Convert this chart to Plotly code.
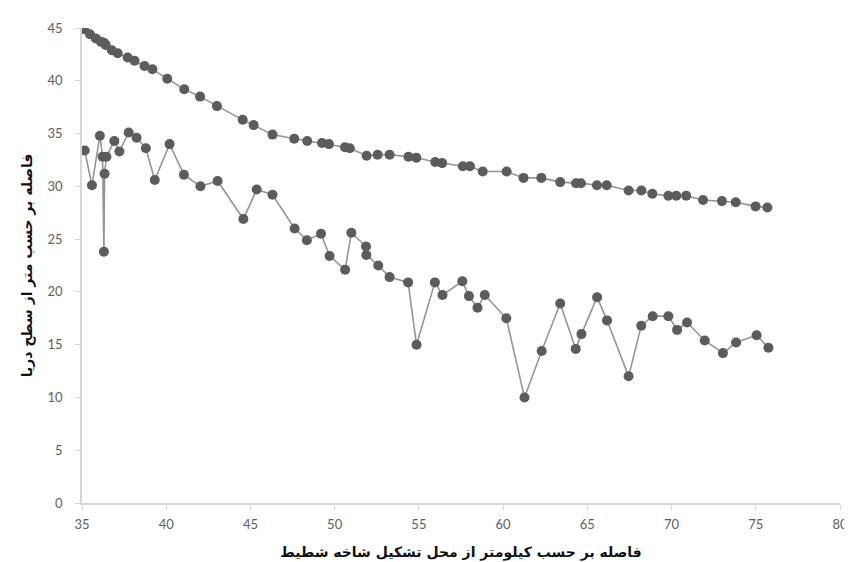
import plotly.graph_objects as go

# Upper series (distance km, elevation m)
upper_x = [35.12, 35.47, 35.82, 36.12, 36.30, 36.41, 36.77, 37.12, 37.71, 38.12, 38.71, 39.18,
           40.06, 41.07, 42.01, 43.01, 44.54, 45.19, 46.31, 47.60, 48.37, 49.25, 49.66, 50.61,
           50.90, 51.90, 52.55, 53.26, 54.38, 54.85, 55.97, 56.38, 57.61, 58.03, 58.79, 60.21,
           61.21, 62.27, 63.39, 64.33, 64.62, 65.57, 66.15, 67.45, 68.21, 68.86, 69.81, 70.28,
           70.87, 71.87, 72.99, 73.81, 74.99, 75.69]
upper_y = [44.9, 44.4, 44.0, 43.7, 43.6, 43.4, 42.9, 42.6, 42.2, 41.9, 41.4, 41.1,
           40.2, 39.2, 38.5, 37.6, 36.3, 35.8, 34.9, 34.5, 34.3, 34.1, 34.0, 33.7,
           33.6, 32.9, 33.0, 33.0, 32.8, 32.7, 32.3, 32.2, 31.9, 31.9, 31.4, 31.4,
           30.8, 30.8, 30.4, 30.3, 30.3, 30.1, 30.1, 29.6, 29.6, 29.3, 29.1, 29.1,
           29.1, 28.7, 28.6, 28.5, 28.1, 28.0]

# Lower series
lower_x = [35.16, 35.59, 36.06, 36.22, 36.30, 36.34, 36.45, 36.92, 37.22, 37.77, 38.24, 38.79,
           39.32, 40.20, 41.05, 42.03, 43.05, 44.58, 45.37, 46.31, 47.62, 48.35, 49.19, 49.70,
           50.62, 50.99, 51.86, 51.88, 52.59, 53.26, 54.36, 54.86, 55.95, 56.40, 57.58, 57.97,
           58.48, 58.91, 60.19, 61.27, 62.29, 63.39, 64.31, 64.65, 65.58, 66.17, 67.45, 68.20,
           68.88, 69.81, 70.33, 70.92, 71.97, 73.05, 73.83, 75.05, 75.75]
lower_y = [33.4, 30.1, 34.8, 32.8, 23.8, 31.2, 32.8, 34.3, 33.3, 35.1, 34.6, 33.6,
           30.6, 34.0, 31.1, 30.0, 30.5, 26.9, 29.7, 29.2, 26.0, 24.9, 25.5, 23.4,
           22.1, 25.6, 24.3, 23.5, 22.5, 21.4, 20.9, 15.0, 20.9, 19.7, 21.0, 19.6,
           18.5, 19.7, 17.5, 10.0, 14.4, 18.9, 14.6, 16.0, 19.5, 17.3, 12.0, 16.8,
           17.7, 17.7, 16.4, 17.1, 15.4, 14.2, 15.2, 15.9, 14.7]

x_ticks = [35, 40, 45, 50, 55, 60, 65, 70, 75, 80]
y_ticks = [0, 5, 10, 15, 20, 25, 30, 35, 40, 45]

x_title = "فاصله بر حسب کیلومتر از محل تشکیل شاخه شطیط"
y_title = "فاصله بر حسب متر از سطح دریا"

marker = dict(size=10, color="#5c5c5c", line=dict(width=0))
line = dict(color="#959595", width=1.6)

fig = go.Figure()
fig.add_trace(go.Scatter(x=upper_x, y=upper_y, mode="lines+markers", marker=marker, line=line,
                         showlegend=False))
fig.add_trace(go.Scatter(x=lower_x, y=lower_y, mode="lines+markers", marker=marker, line=line,
                         showlegend=False))

axis_common = dict(showgrid=False, zeroline=False, showline=True, linecolor="#d6d6d6",
                   linewidth=1.5, ticks="outside", ticklen=5, tickcolor="#d6d6d6",
                   tickfont=dict(family="Lato, Open Sans, sans-serif", size=13, color="#606060"))

fig.update_layout(
    width=852, height=562,
    paper_bgcolor="white", plot_bgcolor="white",
    margin=dict(l=74, r=14, t=17, b=67),
    xaxis=dict(range=[35, 80], tickvals=x_ticks, ticktext=[str(v) for v in x_ticks],
               title=dict(text=x_title, font=dict(family="DejaVu Sans", size=14, color="#111111",
                                                  weight="bold"),
                          standoff=16),
               ticklabelstandoff=4,
               **axis_common),
    yaxis=dict(range=[0, 45], tickvals=y_ticks, ticktext=[str(v) for v in y_ticks],
               title=dict(text=y_title, font=dict(family="DejaVu Sans", size=14, color="#111111",
                                                  weight="bold"),
                          standoff=12),
               ticklabelstandoff=10,
               **axis_common),
)

fig.write_html("out.html")
